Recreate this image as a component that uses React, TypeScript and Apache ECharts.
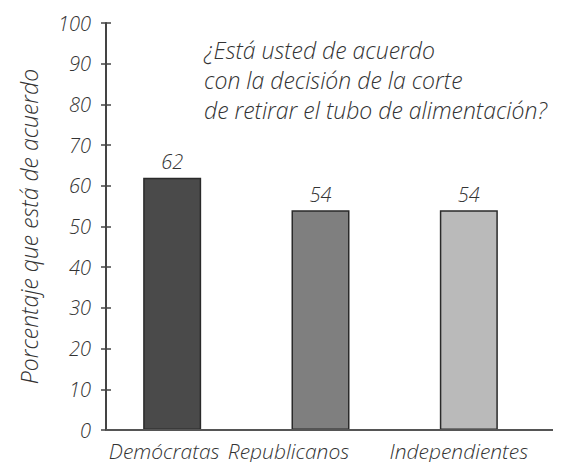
import React, { useEffect, useRef } from "react";
import * as echarts from "echarts";

const categories = ["Demócratas", "Republicanos", "Independientes"];
const values = [62, 54, 54];
const barColors = ["#4a4a4a", "#7f7f7f", "#bababa"];
const yTicks = [0, 10, 20, 30, 40, 50, 60, 70, 80, 90, 100];
const questionLines = [
  "¿Está usted de acuerdo",
  "con la decisión de la corte",
  "de retirar el tubo de alimentación?",
];
const yTitle = "Porcentaje que está de acuerdo";

// layout: horizontal shift (px) of each category label relative to its bar
const LABEL_SHIFT = [-8, -32, -10];
const FONT = "'Open Sans', 'DejaVu Sans', sans-serif";

export default function App() {
  const ref = useRef<HTMLDivElement>(null);
  useEffect(() => {
    if (!ref.current) return;
    const chart = echarts.init(ref.current, null, { renderer: "svg" });
    const yBase = {
      type: "value" as const,
      position: "left" as const,
      min: yTicks[0],
      max: yTicks[yTicks.length - 1],
      interval: 10,
      offset: -8,
      splitLine: { show: false },
    };
    chart.setOption({
      animation: false,
      backgroundColor: "#ffffff",
      grid: { left: 98, right: 18, top: 23, bottom: 40 },
      xAxis: {
        type: "category",
        data: categories.map((c, i) => {
          const s = LABEL_SHIFT[i];
          return {
            value: c,
            textStyle: { padding: s < 0 ? [0, -2 * s, 0, 0] : [0, 0, 0, 2 * s] },
          };
        }),
        axisLine: { show: false },
        axisTick: { show: false },
        axisLabel: {
          interval: 0,
          color: "#333",
          fontFamily: FONT,
          fontStyle: "italic",
          fontWeight: 300,
          fontSize: 21,
          margin: 10,
        },
      },
      yAxis: [
        {
          ...yBase,
          name: yTitle,
          nameLocation: "middle",
          nameGap: 66,
          nameRotate: 90,
          nameTextStyle: {
            color: "#333",
            fontFamily: FONT,
            fontStyle: "italic",
            fontWeight: 300,
            fontSize: 23,
          },
          axisLine: { show: true, lineStyle: { color: "#444", width: 2 } },
          axisTick: { show: true, length: 5, lineStyle: { color: "#444", width: 1.5 } },
          axisLabel: {
            color: "#333",
            fontFamily: FONT,
            fontStyle: "italic",
            fontWeight: 300,
            fontSize: 20,
            margin: 15,
          },
        },
        {
          ...yBase,
          axisLine: { show: false },
          axisTick: { show: true, inside: true, length: 5, lineStyle: { color: "#444", width: 1.5 } },
          axisLabel: { show: false },
        },
      ],
      graphic: [
        {
          type: "line",
          shape: { x1: 106, y1: 430, x2: 553, y2: 430 },
          style: { stroke: "#555", lineWidth: 2 },
          z: 10,
        },
        {
          type: "text",
          left: 204,
          top: 35,
          style: {
            text: questionLines.join("\n"),
            fill: "#333",
            font: `italic 300 23px ${FONT}`,
            lineHeight: 30,
          },
        },
      ],
      series: [
        {
          type: "bar",
          yAxisIndex: 0,
          barWidth: 58,
          data: values.map((v, i) => ({
            value: v,
            itemStyle: { color: barColors[i], borderColor: "#2a2a2a", borderWidth: 1.5 },
          })),
          label: {
            show: true,
            position: "top",
            distance: 6,
            color: "#333",
            fontFamily: FONT,
            fontStyle: "italic",
            fontWeight: 300,
            fontSize: 20,
          },
        },
      ],
    });
    return () => chart.dispose();
  }, []);
  return <div ref={ref} style={{ width: 561, height: 470, margin: -8 }} />;
}
